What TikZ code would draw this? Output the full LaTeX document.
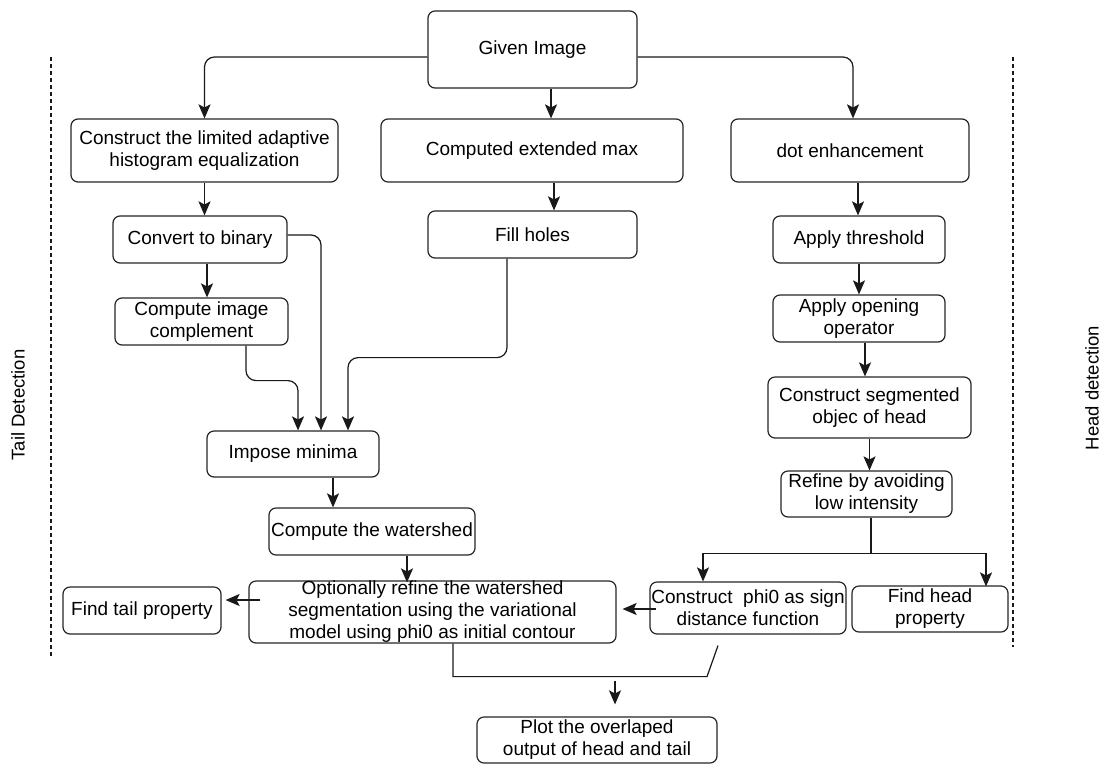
\documentclass[tikz,border=0pt]{standalone}
\usepackage{fontspec}
\setmainfont{Liberation Sans}
\usetikzlibrary{arrows.meta}
\begin{document}
\begin{tikzpicture}[x=1pt,y=-1pt,
  box/.style={draw=black!85, line width=1.2pt, rounded corners=7pt, align=center,
    inner sep=0pt, font=\fontsize{19}{22}\selectfont},
  conn/.style={draw=black!90, line width=1.2pt, rounded corners=10pt,
    -{Stealth[length=14pt,width=12pt,inset=3pt]}},
  plain/.style={draw=black!90, line width=1.2pt},
  sep/.style={draw=black!90, line width=1.2pt, dash pattern=on 4pt off 3pt},
  side/.style={rotate=90, font=\fontsize{18.5}{22}\selectfont}]
\useasboundingbox (0,0) rectangle (1105,764);
\fill[white] (0,0) rectangle (1105,764);

% nodes
\node[box, minimum width=209pt, minimum height=77pt] (given) at (532.5,49.5) {Given Image};
\node[box, minimum width=267pt, minimum height=63pt] (clahe) at (204.5,150.5) {Construct the limited adaptive\\histogram equalization};
\node[box, minimum width=302pt, minimum height=63pt] (extmax) at (532,150.5) {Computed extended max};
\node[box, minimum width=238pt, minimum height=63pt] (dotenh) at (850,150.5) {dot enhancement};
\node[box, minimum width=174pt, minimum height=47pt] (binary) at (200,239.5) {Convert to binary};
\node[box, minimum width=209pt, minimum height=47pt] (fill) at (532.5,234.5) {Fill holes};
\node[box, minimum width=172pt, minimum height=47pt] (thresh) at (859,239.5) {Apply threshold};
\node[box, minimum width=173pt, minimum height=47pt] (complement) at (201.5,321.5) {Compute image\\complement};
\node[box, minimum width=172pt, minimum height=47pt] (opening) at (859,318.5) {Apply opening\\operator};
\node[box, minimum width=203pt, minimum height=61pt] (seghead) at (869.5,407.5) {Construct segmented\\objec of head};
\node[box, minimum width=171pt, minimum height=46pt] (refine) at (866.5,494) {Refine by avoiding\\low intensity};
\node[box, minimum width=172pt, minimum height=46pt] (impose) at (293,454) {Impose minima};
\node[box, minimum width=206pt, minimum height=47pt] (watershed) at (372,531.5) {Compute the watershed};
\node[box, minimum width=367pt, minimum height=62pt] (optional) at (432.5,612) {Optionally refine the watershed\\segmentation using the variational\\model using phi0 as initial contour};
\node[box, minimum width=158pt, minimum height=47pt] (tailprop) at (142,610.5) {Find tail property};
\node[box, minimum width=196pt, minimum height=52pt] (phi0) at (748,608) {Construct\ \ phi0 as sign\\distance function};
\node[box, minimum width=156pt, minimum height=46pt] (headprop) at (930,609) {Find head\\property};
\node[box, minimum width=240pt, minimum height=46pt] (plot) at (597,740) {Plot the overlaped\\output of head and tail};

% side labels and separators
\node[side] (taillbl) at (18,405) {Tail Detection};
\node[side] (headlbl) at (1092,388) {Head detection};
\coordinate (ltop) at (51,57);
\coordinate (lbot) at (51,658);
\coordinate (rtop) at (1013,57);
\coordinate (rbot) at (1013,647);
\draw[sep] (ltop) -- (lbot);
\draw[sep] (rtop) -- (rbot);

% connectors from Given Image
\draw[conn] ([yshift=-7.5pt]given.west) -| (clahe.north);
\draw[conn] ([xshift=18.5pt]given.south) -- ([xshift=18.5pt]given.south |- extmax.north);
\draw[conn] ([yshift=-7.5pt]given.east) -| ([xshift=3pt]dotenh.north);

% column steps
\draw[conn] (clahe.south) -- (clahe.south |- binary.north);
\draw[conn] ([xshift=22pt]extmax.south) -- ([xshift=22pt]extmax.south |- fill.north);
\draw[conn] ([xshift=8pt]dotenh.south) -- ([xshift=8pt]dotenh.south |- thresh.north);
\draw[conn] ([xshift=7pt]binary.south) -- ([xshift=7pt]binary.south |- complement.north);
\draw[conn] (thresh.south) -- (opening.north);
\draw[conn] ([xshift=6pt]opening.south) -- ([xshift=6pt]opening.south |- seghead.north);
\draw[conn] (seghead.south) -- (seghead.south |- refine.north);
\draw[conn] ([xshift=40pt]impose.south) -- ([xshift=40pt]impose.south |- watershed.north);
\draw[conn] ([xshift=35pt]watershed.south) -- ([xshift=35pt,yshift=-2pt]watershed.south |- optional.north);

% into Impose minima
\draw[conn] ([xshift=44.5pt]complement.south) -- ++(0,35) -| ([xshift=5pt]impose.north);
\draw[conn] ([yshift=4.5pt]binary.east) -| ([xshift=28pt]impose.north);
\draw[conn] ([xshift=-25.5pt]fill.south) -- ++(0,99) -| ([xshift=55pt]impose.north);

% split after Refine
\coordinate (split) at ([xshift=4.5pt,yshift=-36pt]refine.south);
\draw[plain] ([xshift=4.5pt]refine.south) -- (split);
\draw[conn, rounded corners=0pt] (split) -| ([xshift=-45pt]phi0.north);
\draw[conn, rounded corners=0pt] (split) -| ([xshift=56pt,yshift=-1pt]headprop.north);

% horizontal arrows
\draw[conn] ([xshift=7pt,yshift=-1pt]phi0.west) -- ([xshift=6pt,yshift=-1pt]phi0.west -| optional.east);
\draw[conn] ([xshift=12pt,yshift=12pt]optional.west) -- ([xshift=4pt,yshift=12pt]optional.west -| tailprop.east);

% bottom join
\coordinate (join) at ([xshift=-41pt,yshift=-42pt]phi0.south);
\coordinate (phiend) at ([xshift=-30pt,yshift=-11pt]phi0.south);
\draw[plain] ([xshift=20.5pt]optional.south) |- (join) -- (phiend);
\draw[conn] ([xshift=18pt,yshift=35pt]plot.north) -- ([xshift=18pt,yshift=12pt]plot.north);
\end{tikzpicture}
\end{document}
